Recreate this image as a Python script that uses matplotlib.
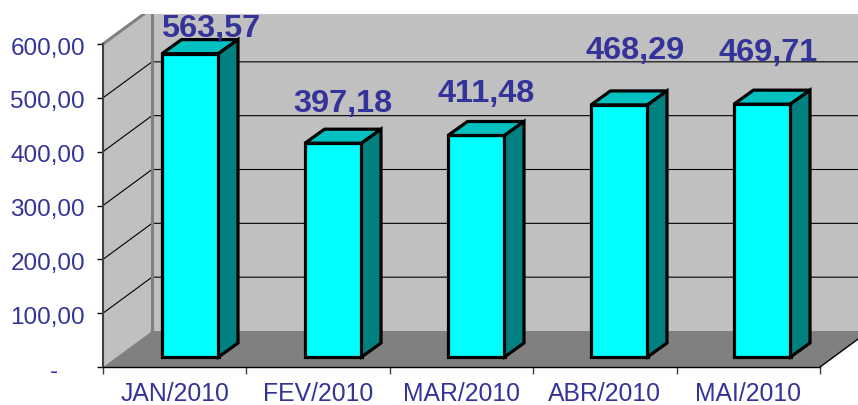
import matplotlib
matplotlib.use('Agg')
import matplotlib.pyplot as plt
from matplotlib.patches import Polygon, Rectangle
from matplotlib.transforms import ScaledTranslation

plt.rcParams['font.family'] = ['Liberation Sans', 'DejaVu Sans']

# Data
months = ['JAN/2010', 'FEV/2010', 'MAR/2010', 'ABR/2010', 'MAI/2010']
values = [563.57, 397.18, 411.48, 468.29, 469.71]
value_labels = ['563,57', '397,18', '411,48', '468,29', '469,71']
y_ticks = [0, 100, 200, 300, 400, 500, 600]
y_tick_labels = ['-    ', '100,00', '200,00', '300,00', '400,00', '500,00', '600,00']

# Figure size in pixels, axes is the front plane of the 3D box
W, H = 858, 405
fig = plt.figure(figsize=(W / 100, H / 100), dpi=100, facecolor='white')
ax = fig.add_axes([103 / W, 1 - 367 / H, 717 / W, 323 / H])
ax.set_xlim(0, 5)
ax.set_ylim(0, 600)
ax.patch.set_visible(False)

# Pixel to data unit conversion
ux = 5 / 717
uy = 600 / 323

# Walls and floor depth
wall_dx = 49 * ux
wall_dy = 36 * uy
far_x = 5 + wall_dx
top_y = 600 + wall_dy

wall = Polygon([(wall_dx, wall_dy), (far_x, wall_dy), (far_x, top_y), (wall_dx, top_y)],
               facecolor='#c0c0c0', edgecolor='none', clip_on=False, zorder=1)
side = Polygon([(0, 0), (wall_dx, wall_dy), (wall_dx, top_y), (0, 600)],
               facecolor='#c0c0c0', edgecolor='none', clip_on=False, zorder=1)
floor = Polygon([(0, 0), (5, 0), (far_x, wall_dy), (wall_dx, wall_dy)],
                facecolor='#808080', edgecolor='none', clip_on=False, zorder=1)
ax.add_patch(wall)
ax.add_patch(side)
ax.add_patch(floor)

# Grid lines go along the side wall and then along the back wall
for t in y_ticks[1:]:
    ax.plot([0, wall_dx, far_x], [t, t + wall_dy, t + wall_dy], color='black', lw=0.8,
            clip_on=False, zorder=2)

# Grey wall edges
ax.plot([wall_dx, wall_dx], [wall_dy, top_y], color='#808080', lw=2.2, clip_on=False, zorder=2)
ax.plot([0, wall_dx], [600, top_y], color='#808080', lw=2.2, clip_on=False, zorder=2)
ax.plot([5, far_x], [0, wall_dy], color='black', lw=1, clip_on=False, zorder=2)

# Bars
bar_left = 59 * ux
bar_step = 143 / 143.4
bar_width = 56.5 * ux
bar_base = 10 * uy
bar_dx = 19.5 * ux
bar_dy = 14 * uy
label_dx = [20, 10, 10, 16, 6]
label_dy = [25, 39, 41, 54, 51]

for i, v in enumerate(values):
    x0 = i * bar_step + bar_left
    x1 = x0 + bar_width
    y0 = bar_base
    y1 = bar_base + v
    ax.bar(x0, v, width=bar_width, bottom=y0, align='edge', color='#00ffff', edgecolor='black',
           linewidth=2.3, clip_on=False, zorder=3)
    ax.add_patch(Polygon([(x0, y1), (x1, y1), (x1 + bar_dx, y1 + bar_dy), (x0 + bar_dx, y1 + bar_dy)],
                         facecolor='#00c0c0', edgecolor='black', linewidth=2.3, joinstyle='miter',
                         clip_on=False, zorder=3))
    ax.add_patch(Polygon([(x1, y0), (x1 + bar_dx, y0 + bar_dy), (x1 + bar_dx, y1 + bar_dy), (x1, y1)],
                         facecolor='#008080', edgecolor='black', linewidth=2.3, joinstyle='miter',
                         clip_on=False, zorder=3))
    ax.annotate(value_labels[i], xy=(x0 + bar_width / 2, y1),
                xytext=(label_dx[i] * 0.72, label_dy[i] * 0.72),
                textcoords='offset points', ha='center', va='center', fontsize=23.4, fontweight='bold',
                color='#333399', annotation_clip=False, zorder=4)

# Axes
for s in ['top', 'right']:
    ax.spines[s].set_visible(False)
ax.spines['left'].set_color('#404040')
ax.spines['left'].set_linewidth(1.5)
ax.spines['left'].set_zorder(5)
ax.spines['bottom'].set_color('black')
ax.spines['bottom'].set_linewidth(1)
ax.spines['bottom'].set_zorder(5)

ax.set_yticks(y_ticks)
ax.set_yticklabels(y_tick_labels)
ax.set_xticks(range(6))
ax.set_xticklabels([])
ax.set_xticks([i + 0.5 for i in range(5)], minor=True)
ax.set_xticklabels(months, minor=True)
ax.tick_params(axis='y', length=4.5, width=1, pad=8.5, labelsize=17.5, labelcolor='#333399')
ax.tick_params(axis='x', which='major', length=5, width=1, color='#404040')
ax.tick_params(axis='x', which='minor', length=0, pad=11, labelsize=17.8, labelcolor='#333399')

# y labels sit a little below their ticks in the original
shift = ScaledTranslation(0, -2 / 100, fig.dpi_scale_trans)
for label in ax.get_yticklabels():
    label.set_transform(label.get_transform() + shift)

# The picture is cut off at the top
fig.add_artist(Rectangle((0, 1 - 14 / H), 1, 14 / H, transform=fig.transFigure,
                         facecolor='white', edgecolor='none', zorder=10))

fig.savefig('out.png', dpi=100)
